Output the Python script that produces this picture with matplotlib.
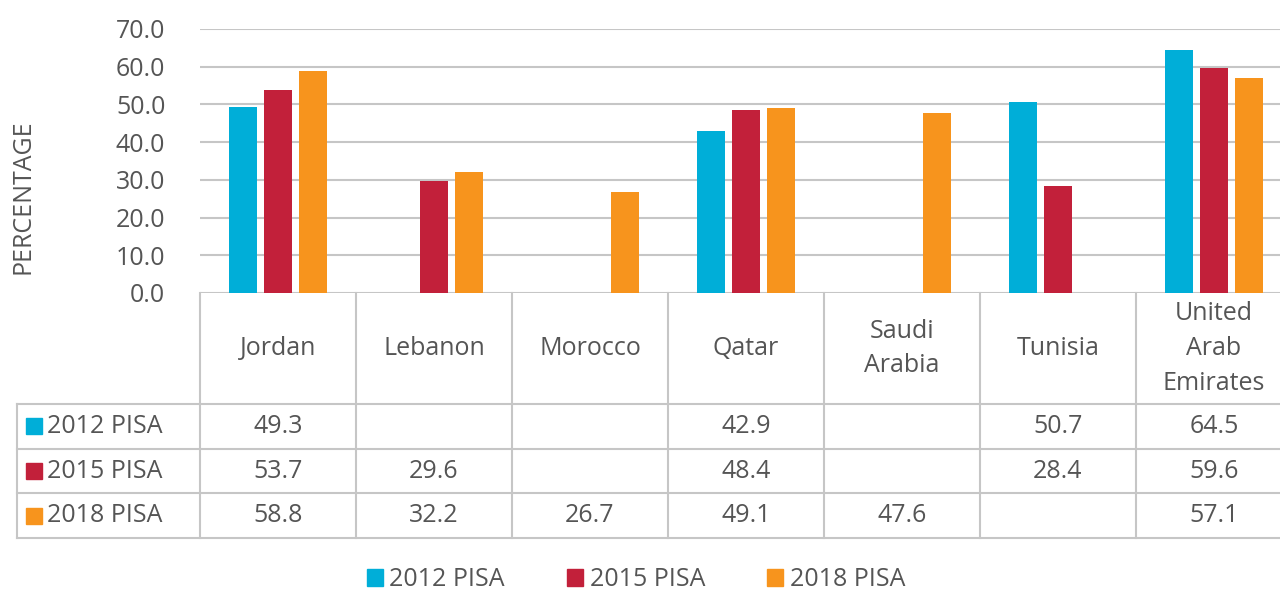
import numpy as np
import matplotlib.pyplot as plt
from matplotlib.patches import Rectangle, Patch

plt.rcParams['font.family'] = ['Open Sans', 'DejaVu Sans']

countries = ["Jordan", "Lebanon", "Morocco", "Qatar", "Saudi\nArabia", "Tunisia",
             "United\nArab\nEmirates"]
series = ["2012 PISA", "2015 PISA", "2018 PISA"]
pisa_2012 = [49.3, None, None, 42.9, None, 50.7, 64.5]
pisa_2015 = [53.7, 29.6, None, 48.4, None, 28.4, 59.6]
pisa_2018 = [58.8, 32.2, 26.7, 49.1, 47.6, None, 57.1]
values = [pisa_2012, pisa_2015, pisa_2018]
colors = ["#00AED8", "#C2203A", "#F7941D"]

txt = '#555555'
line_c = '#c6c6c6'
fs = 18

W, H = 1280, 592
fig = plt.figure(figsize=(W / 100, H / 100), dpi=100)

# main bar axes (extends a bit past the right edge like the original)
ax = fig.add_axes([200 / W, 1 - 293 / H, 1092 / W, 264 / H])
x = np.arange(len(countries))
for i, vals in enumerate(values):
    h = [np.nan if v is None else v for v in vals]
    ax.bar(x + (i - 1) * 0.224, h, width=0.175, color=colors[i], zorder=3)
ax.set_xlim(-0.5, len(countries) - 0.5)
ax.set_ylim(0, 70)
ax.set_yticks(np.arange(0, 71, 10))
ax.set_yticklabels([f"{t:.1f}" for t in np.arange(0, 71, 10)])
ax.set_xticks([])
ax.tick_params(axis='y', length=0, pad=25, labelsize=fs, labelcolor=txt)
ax.yaxis.grid(True, color=line_c, lw=1.5)
ax.set_axisbelow(True)
for s in ax.spines.values():
    s.set_visible(False)

fig.text(23 / W, 1 - 197 / H, "PERCENTAGE", rotation=90, ha='center', va='center',
         fontsize=fs, color=txt)

# data table below
tab = fig.add_axes([200 / W, 1 - 538 / H, 1092 / W, 245 / H])
tab.set_xlim(-0.5, len(countries) - 0.5)
header_h = 111
row_h = (245 - header_h) / 3
tab.set_ylim(245, 0)
tab.axis('off')
lab_left = -0.5 - 183 / 156
right = len(countries) - 0.5

for r in range(4):
    y = header_h + r * row_h
    tab.plot([lab_left, right], [y, y], color=line_c, lw=1.5, clip_on=False)
for c in range(len(countries) + 1):
    tab.plot([c - 0.5, c - 0.5], [0, 245], color=line_c, lw=1.5, clip_on=False)
tab.plot([lab_left, lab_left], [header_h, 245], color=line_c, lw=1.5, clip_on=False)

for c, name in enumerate(countries):
    tab.text(c, header_h / 2, name, ha='center', va='center', fontsize=fs,
             color=txt, linespacing=1.5)

for r, (name, vals) in enumerate(zip(series, values)):
    yc = header_h + (r + 0.5) * row_h
    sq = 16 / 156
    tab.add_patch(Rectangle((lab_left + 9 / 156, yc - 8), sq, 16,
                            color=colors[r], clip_on=False))
    tab.text(lab_left + 30 / 156, yc, name, ha='left', va='center', fontsize=fs,
             color=txt)
    for c, v in enumerate(vals):
        if v is not None:
            tab.text(c, yc, f"{v:.1f}", ha='center', va='center', fontsize=fs,
                     color=txt)

handles = [Patch(color=col, label=lab) for col, lab in zip(colors, series)]
fig.legend(handles=handles, loc='center', bbox_to_anchor=(636 / W, 1 - 580 / H),
           ncol=3, frameon=False, fontsize=fs, labelcolor=txt, handlelength=0.64,
           handleheight=0.64, handletextpad=0.25, columnspacing=2.5)

fig.savefig("out.png", dpi=100)
